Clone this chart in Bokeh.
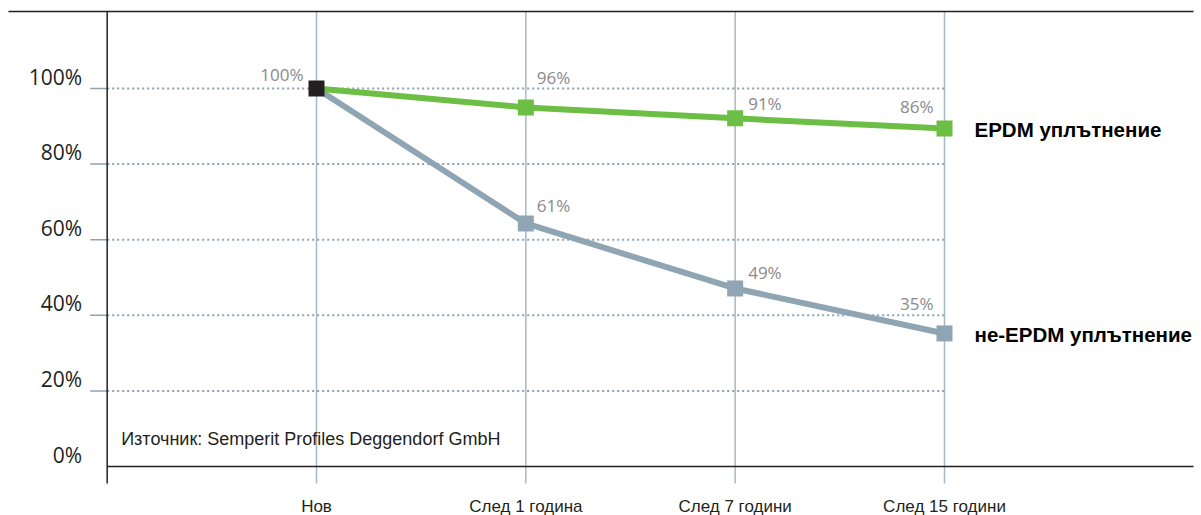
from bokeh.plotting import figure
from bokeh.models import Range1d, ColumnDataSource
from bokeh.core.properties import value
from bokeh.embed import file_html
from bokeh.resources import INLINE

# ---- data ----
categories = ["Нов", "След 1 година", "След 7 години", "След 15 години"]
epdm_values = [100, 95.0, 92.1, 89.4]
non_epdm_values = [100, 64.3, 47.1, 35.2]
epdm_labels = ["96%", "91%", "86%"]
non_epdm_labels = ["61%", "49%", "35%"]
start_label = "100%"
y_ticks = [0, 20, 40, 60, 80, 100]
y_tick_labels = ["0%", "20%", "40%", "60%", "80%", "100%"]
series_names = ["EPDM уплътнение", "не-EPDM уплътнение"]
source_note = "Източник: Semperit Profiles Deggendorf GmbH"

# ---- layout ----
W, H = 1201, 515
XS, XE = -1.5096, 4.2277
YS, YE = -12.96, 123.28
TOP = 120.37
BOTTOM_EXT = -4.5
AXIS_X = -1.0

GREEN = "#6dbe45"
GREY = "#8fa5b4"
GRID = "#a8b8c5"
DOT = "#8ca2b3"
DARK = "#231f20"
LABEL_GREY = "#8a8a8a"

p = figure(width=W, height=H, x_range=Range1d(XS, XE), y_range=Range1d(YS, YE),
           output_backend="svg", toolbar_location=None, min_border=0,
           outline_line_color=None, background_fill_color="white",
           border_fill_color="white")
p.axis.visible = False
p.grid.visible = False

idx = list(range(len(categories)))

# vertical category lines
for i in idx:
    p.segment(x0=i, y0=BOTTOM_EXT, x1=i, y1=TOP, line_color=GRID, line_width=1.5)

# dotted horizontal grid lines + tick stubs
for t in y_ticks[1:]:
    p.segment(x0=AXIS_X, y0=t, x1=idx[-1], y1=t, line_color=DOT, line_width=2,
              line_dash="2 3")
    p.segment(x0=AXIS_X - 0.081, y0=t, x1=AXIS_X, y1=t, line_color=DOT, line_width=1.5)

# frame lines
p.segment(x0=XS + 0.038, y0=TOP, x1=XE - 0.038, y1=TOP, line_color=DARK, line_width=1.5)
p.segment(x0=AXIS_X, y0=BOTTOM_EXT, x1=AXIS_X, y1=TOP, line_color=DARK, line_width=1.5)
p.segment(x0=AXIS_X, y0=0, x1=XE - 0.038, y1=0, line_color=DARK, line_width=1.5)

# y tick labels
p.text(x=[AXIS_X - 0.12] * len(y_ticks), y=y_ticks, text=y_tick_labels,
       text_align="right", text_baseline="middle", y_offset=-12,
       text_font=value("Open Sans"), text_font_size="21px", text_color=DARK)

# series lines
p.line(idx, non_epdm_values, line_color=GREY, line_width=6)
p.line(idx, epdm_values, line_color=GREEN, line_width=6)
p.scatter(idx[1:], non_epdm_values[1:], marker="square", size=16,
          fill_color=GREY, line_color=None)
p.scatter(idx[1:], epdm_values[1:], marker="square", size=16,
          fill_color=GREEN, line_color=None)
p.scatter([idx[0]], [epdm_values[0]], marker="square", size=16,
          fill_color=DARK, line_color=None)

# value labels
p.text(x=[idx[0]], y=[epdm_values[0]], text=[start_label], text_align="right",
       text_baseline="middle", x_offset=-13, y_offset=-14,
       text_font=value("Open Sans"), text_font_size="17px", text_color=LABEL_GREY)

lab_src_e = ColumnDataSource(dict(x=idx[1:], y=epdm_values[1:], t=epdm_labels,
                                  align=["left", "left", "right"],
                                  xo=[11, 13, -11], yo=[-30, -15, -22]))
p.text(x="x", y="y", text="t", text_align="align", x_offset="xo", y_offset="yo",
       text_baseline="middle", source=lab_src_e,
       text_font=value("Open Sans"), text_font_size="17px", text_color=LABEL_GREY)

lab_src_n = ColumnDataSource(dict(x=idx[1:], y=non_epdm_values[1:], t=non_epdm_labels,
                                  align=["left", "left", "right"],
                                  xo=[11, 13, -11], yo=[-18, -16, -30]))
p.text(x="x", y="y", text="t", text_align="align", x_offset="xo", y_offset="yo",
       text_baseline="middle", source=lab_src_n,
       text_font=value("Open Sans"), text_font_size="17px", text_color=LABEL_GREY)

# series names
p.text(x=[idx[-1], idx[-1]], y=[epdm_values[-1], non_epdm_values[-1]], text=series_names,
       text_align="left", text_baseline="middle", x_offset=30, y_offset=1,
       text_font=value("Liberation Sans"), text_font_style="bold",
       text_font_size="20.5px", text_color="#000000")

# category labels
p.text(x=idx, y=[0] * len(idx), text=categories, text_align="center",
       text_baseline="middle", y_offset=40,
       text_font=value("Liberation Sans"), text_font_size="17px", text_color=DARK)

# source note
p.text(x=[AXIS_X], y=[0], text=[source_note], text_align="left",
       text_baseline="middle", x_offset=14, y_offset=-28,
       text_font=value("Liberation Sans"), text_font_size="18px", text_color=DARK)

open("out.html", "w").write(file_html(p, INLINE))
